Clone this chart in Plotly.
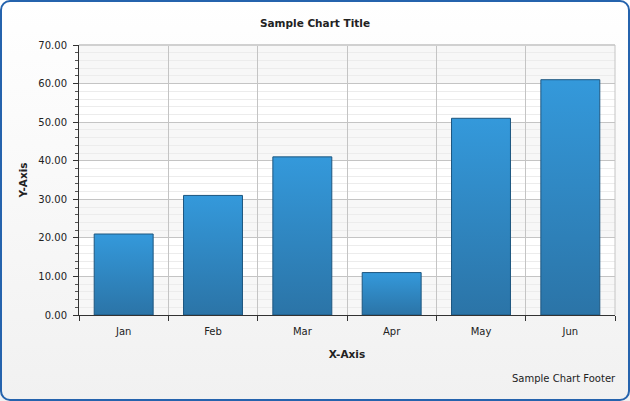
import plotly.graph_objects as go

categories = ["Jan", "Feb", "Mar", "Apr", "May", "Jun"]
values = [21, 31, 41, 11, 51, 61]
y_ticks = [0, 10, 20, 30, 40, 50, 60, 70]
y_tick_labels = ["%.2f" % v for v in y_ticks]

FONT = "DejaVu Sans"

fig = go.Figure()
fig.add_trace(go.Bar(
    x=categories, y=values,
    marker=dict(color="#3087c4", line=dict(color="#1d567f", width=1)),
    width=0.66,
))

shapes = []
# alternating bands
for i in range(len(y_ticks) - 1):
    if i % 2 == 0:
        shapes.append(dict(type="rect", xref="paper", yref="y", x0=0, x1=1,
                           y0=y_ticks[i], y1=y_ticks[i + 1],
                           fillcolor="#f7f7f7", line=dict(width=0), layer="below"))

fig.update_layout(
    width=630, height=401,
    margin=dict(l=79, r=15, t=45, b=86),
    paper_bgcolor="rgba(0,0,0,0)",
    plot_bgcolor="#ffffff",
    showlegend=False,
    font=dict(family=FONT, size=10, color="#222222"),
    title=dict(text="<b>Sample Chart Title</b>", x=0.5, xanchor="center",
               y=1 - 23 / 401, yanchor="middle", font=dict(size=10.5, color="#222222")),
    shapes=shapes,
    xaxis=dict(
        type="category", tickson="boundaries",
        showgrid=True, gridcolor="#c4c4c4", gridwidth=1,
        showline=True, linecolor="#333333", linewidth=1,
        ticks="outside", ticklen=5, tickcolor="#333333",
        ticklabelstandoff=7,
        title=dict(text="<b>X-Axis</b>", standoff=14, font=dict(size=10.5)),
        mirror=False, zeroline=False,
    ),
    yaxis=dict(
        range=[0, 70], tickvals=y_ticks, ticktext=y_tick_labels,
        showgrid=True, gridcolor="#c4c4c4", gridwidth=1,
        showline=True, linecolor="#333333", linewidth=1,
        ticks="outside", ticklen=5, tickcolor="#333333",
        ticklabelstandoff=4,
        minor=dict(dtick=2, showgrid=True, gridcolor="#ececec",
                   ticks="outside", ticklen=3, tickcolor="#555555"),
        title=dict(text="<b>Y-Axis</b>", standoff=8, font=dict(size=10.5)),
        zeroline=False,
    ),
    bargap=0.34,
)

# top and right plot frame
fig.add_shape(type="line", xref="paper", yref="paper", x0=0, x1=1, y0=1, y1=1,
              line=dict(color="#d0d0d0", width=2))
fig.add_shape(type="line", xref="paper", yref="paper", x0=1, x1=1, y0=0, y1=1,
              line=dict(color="#c4c4c4", width=1))

fig.add_annotation(text="Sample Chart Footer", xref="paper", yref="paper",
                   x=1.005, y=-(378 - 315) / 270, xanchor="right", yanchor="middle",
                   showarrow=False, font=dict(size=10, color="#222222"))

post = """
(function(){
  var gd = document.getElementById('{plot_id}');
  function paint(){
    var svg = gd.querySelector('svg.main-svg');
    if(!svg) return;
    var ns = 'http://www.w3.org/2000/svg';
    if(!document.getElementById('barGrad')){
      var defs = document.createElementNS(ns,'defs');
      var g = document.createElementNS(ns,'linearGradient');
      g.setAttribute('id','barGrad'); g.setAttribute('x1','0'); g.setAttribute('y1','0');
      g.setAttribute('x2','0'); g.setAttribute('y2','1');
      [['0','#3499db'],['1','#2b74a7']].forEach(function(s){
        var st = document.createElementNS(ns,'stop');
        st.setAttribute('offset',s[0]); st.setAttribute('stop-color',s[1]);
        g.appendChild(st);
      });
      defs.appendChild(g); svg.insertBefore(defs, svg.firstChild);
    }
    gd.querySelectorAll('.bars .point path').forEach(function(p){
      p.style.fill = 'url(#barGrad)';
    });
  }
  paint();
  gd.on && gd.on('plotly_afterplot', paint);
})();
"""

html = fig.to_html(include_plotlyjs=True, full_html=True,
                   config={"displayModeBar": False}, post_script=post)
style = ("<style>html,body{margin:0;padding:0;}"
         "body{background:linear-gradient(#ffffff,#f1f1f1);width:630px;height:401px;overflow:hidden;}"
         "#frame{position:fixed;left:0;top:0;width:630px;height:401px;box-sizing:border-box;"
         "border:2px solid #2563ad;border-radius:10px;pointer-events:none;z-index:10;}"
         "</style>")
html = html.replace("<head>", "<head>" + style, 1)
html = html.replace("</body>", "<div id='frame'></div></body>", 1)
fig.write_html("out.html")
with open("out.html", "w", encoding="utf-8") as f:
    f.write(html)
